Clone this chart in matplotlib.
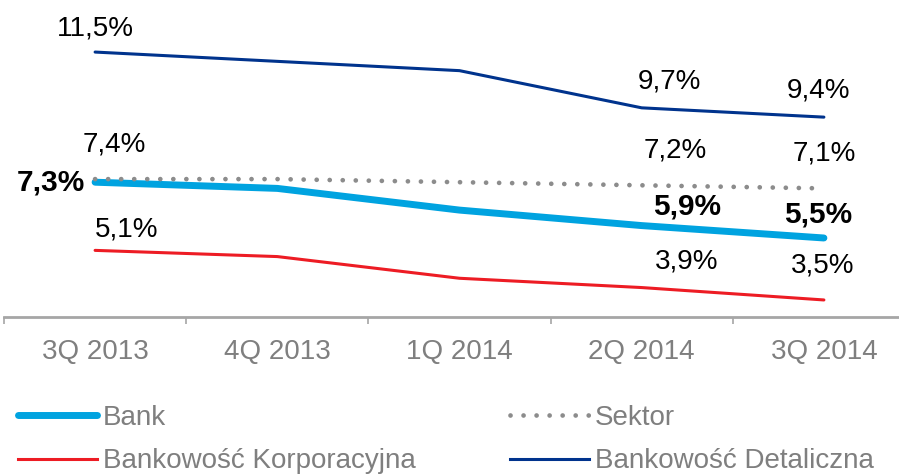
import matplotlib
matplotlib.use("Agg")
import matplotlib.pyplot as plt
from matplotlib.lines import Line2D

plt.rcParams["font.family"] = ["Liberation Sans", "DejaVu Sans"]

quarters = ["3Q 2013", "4Q 2013", "1Q 2014", "2Q 2014", "3Q 2014"]
bank = [7.3, 7.1, 6.4, 5.9, 5.5]
sektor = [7.4, 7.4, 7.3, 7.2, 7.1]
korporacyjna = [5.1, 4.9, 4.2, 3.9, 3.5]
detaliczna = [11.5, 11.2, 10.9, 9.7, 9.4]

# which points carry a value label
labelled = [0, 3, 4]

BLUE = "#00A3E0"
NAVY = "#00338D"
RED = "#ED1C24"
DOTS = "#8C8C8C"
AXIS = "#A6A6A6"
GREY_TEXT = "#7F7F7F"
DOTTED = (0, (0.01, 2.75))


def fmt(v):
    return f"{v:.1f}".replace(".", ",") + "%"


def add_labels(ax, values, offsets, bold=False, aligns=("center",) * 3):
    for i, (dx, dy), ha in zip(labelled, offsets, aligns):
        ax.annotate(
            fmt(values[i]),
            xy=(i, values[i]),
            xytext=(dx, dy),
            textcoords="offset points",
            ha=ha,
            va="center",
            fontsize=21.5 if bold else 20,
            fontweight="bold" if bold else "normal",
            color="black",
        )


fig = plt.figure(figsize=(8.99, 4.75), dpi=100)
ax = fig.add_axes([4 / 899, 158 / 475, 911 / 899, 317 / 475])

x = range(len(quarters))

ax.plot(x, detaliczna, color=NAVY, lw=2.2, solid_capstyle="round", zorder=2)
ax.plot(x, korporacyjna, color=RED, lw=2.2, solid_capstyle="round", zorder=2)
ax.plot(x, bank, color=BLUE, lw=5, solid_capstyle="round", zorder=3)
ax.plot(x, sektor, color=DOTS, lw=3.4, linestyle=DOTTED,
        dash_capstyle="round", zorder=4)

add_labels(ax, detaliczna, [(0, 17), (20, 19), (-4, 19)])
add_labels(ax, sektor, [(14, 25), (24, 25), (0, 25)])
add_labels(ax, korporacyjna, [(23, 15), (32, 19), (-1, 25)])
add_labels(ax, bank, [(-7, 0), (33, 14), (-4, 17)], bold=True,
           aligns=("right", "center", "center"))

ax.set_xlim(-0.5, len(quarters) - 0.5)
ax.set_ylim(2.95, 13.18)

for side in ["top", "left", "right"]:
    ax.spines[side].set_visible(False)
ax.spines["bottom"].set_color(AXIS)
ax.spines["bottom"].set_linewidth(2)

ax.set_yticks([])
ax.set_xticks([i - 0.5 for i in range(len(quarters) + 1)])
ax.set_xticklabels([])
ax.tick_params(axis="x", which="major", length=5, width=1.2, color=AXIS)
ax.set_xticks(list(x), minor=True)
ax.set_xticklabels(quarters, minor=True, fontsize=20, color=GREY_TEXT)
ax.tick_params(axis="x", which="minor", length=0, pad=16)

handles = [
    Line2D([], [], color=BLUE, lw=5, solid_capstyle="round"),
    Line2D([], [], color=RED, lw=2.2),
    Line2D([], [], color=DOTS, lw=3.4, linestyle=DOTTED, dash_capstyle="round"),
    Line2D([], [], color=NAVY, lw=2.2),
]
names = ["Bank", "Bankowość Korporacyjna", "Sektor", "Bankowość Detaliczna"]
leg = fig.legend(
    handles, names,
    loc="upper left",
    bbox_to_anchor=(18 / 899, 1 - 405 / 475),
    ncol=2,
    frameon=False,
    fontsize=20,
    handlelength=2.85,
    handletextpad=0.2,
    columnspacing=3.4,
    labelspacing=0.62,
    borderpad=0,
    borderaxespad=0,
)
for t in leg.get_texts():
    t.set_color(GREY_TEXT)

fig.savefig("out.png", dpi=100)
